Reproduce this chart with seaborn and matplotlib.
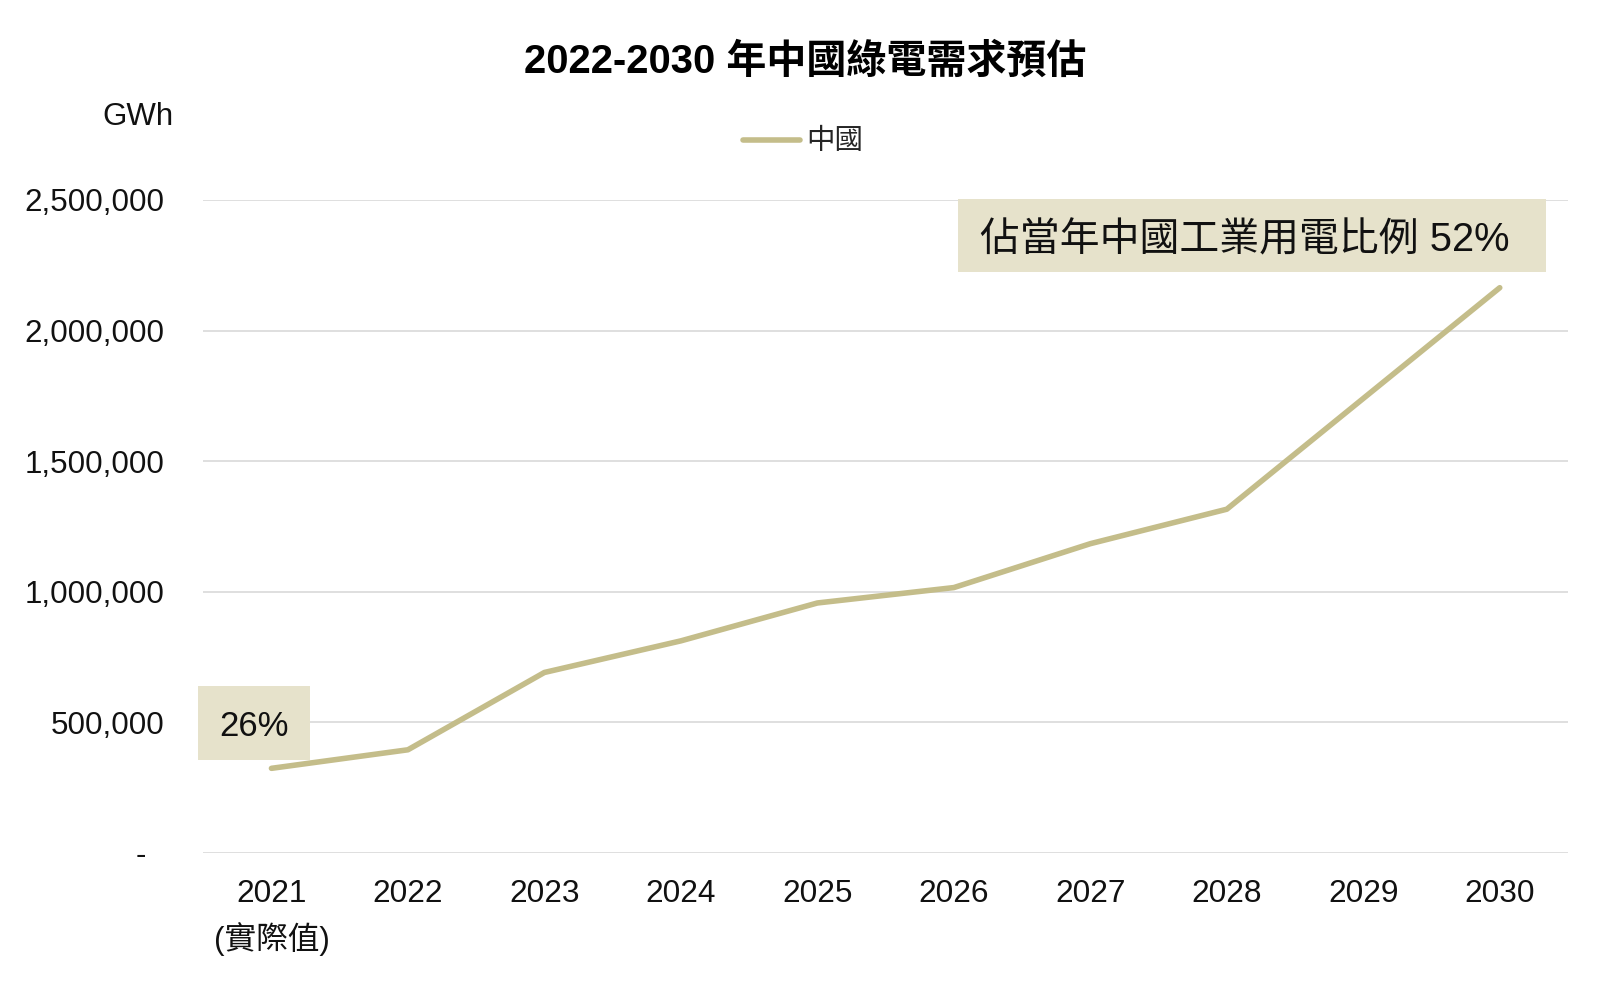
import pandas as pd
import numpy as np
import matplotlib.pyplot as plt
import seaborn as sns
from matplotlib.patches import Rectangle
from matplotlib.ticker import FuncFormatter

# -------------------------
# Data
# -------------------------
years = ["2021", "2022", "2023", "2024", "2025", "2026", "2027", "2028", "2029", "2030"]
tick_labels = ["2021\n(實際值)", "2022", "2023", "2024", "2025", "2026", "2027", "2028", "2029", "2030"]
china_gwh = [324000, 395000, 691000, 812000, 957000, 1016000, 1184000, 1316000, 1740000, 2164000]
y_ticks = [0, 500000, 1000000, 1500000, 2000000, 2500000]

df = pd.DataFrame({"year": years, "中國": china_gwh})

# -------------------------
# Style
# -------------------------
sns.set_theme(style="white")
plt.rcParams["font.family"] = ["Liberation Sans", "Noto Sans CJK TC", "DejaVu Sans"]

line_color = "#C4BD8A"
box_color = "#E6E2CB"
grid_color = "#D9D9D9"

fig = plt.figure(figsize=(16, 9.82), dpi=100)
ax = fig.add_axes([0.127, 0.1314, 0.853, 0.665])

sns.lineplot(data=df, x="year", y="中國", sort=False, color=line_color,
             linewidth=4.0, label="中國", ax=ax, solid_capstyle="round")

# -------------------------
# Axes
# -------------------------
ax.set_xlim(-0.5, len(years) - 0.5)
ax.set_ylim(0, 2500000)
ax.set_yticks(y_ticks)
ax.yaxis.set_major_formatter(FuncFormatter(lambda v, p: "-  " if v == 0 else f"{v:,.0f}"))
ax.set_xticks(range(len(years)))
ax.set_xticklabels(tick_labels, linespacing=1.5)
ax.tick_params(axis="y", length=0, pad=28, labelsize=22.6, colors="#111111")
ax.tick_params(axis="x", length=0, pad=18.5, labelsize=22.8, colors="#111111")
ax.set_xlabel("")
ax.set_ylabel("")

ax.grid(axis="y", color=grid_color, linewidth=1.2)
ax.set_axisbelow(True)
for s in ax.spines.values():
    s.set_visible(False)

# -------------------------
# Annotation boxes
# -------------------------
ax.add_patch(Rectangle((0.553, 0.890), 0.431, 0.112, transform=ax.transAxes,
                       facecolor=box_color, edgecolor="none", zorder=1, clip_on=False))
ax.text(0.569, 0.938, "佔當年中國工業用電比例 52%", transform=ax.transAxes,
        ha="left", va="center", fontsize=28.7, color="#111111", zorder=3)

ax.add_patch(Rectangle((-0.004, 0.1424), 0.082, 0.1133, transform=ax.transAxes,
                       facecolor=box_color, edgecolor="none", zorder=1, clip_on=False))
ax.text(0.037, 0.194, "26%", transform=ax.transAxes,
        ha="center", va="center", fontsize=25, color="#111111", zorder=3)

# -------------------------
# Legend, title, unit
# -------------------------
ax.legend(loc="center", bbox_to_anchor=(0.502, 0.855), bbox_transform=fig.transFigure,
          frameon=False, fontsize=20.5, handlelength=2.0, handletextpad=0.2)

fig.text(0.5035, 0.937, "2022-2030 年中國綠電需求預估", ha="center", va="center",
         fontsize=28.8, fontweight="bold", color="#000000")
fig.text(0.0865, 0.881, "GWh", ha="center", va="center", fontsize=22.5, color="#111111")

fig.savefig("out.png", dpi=100)
